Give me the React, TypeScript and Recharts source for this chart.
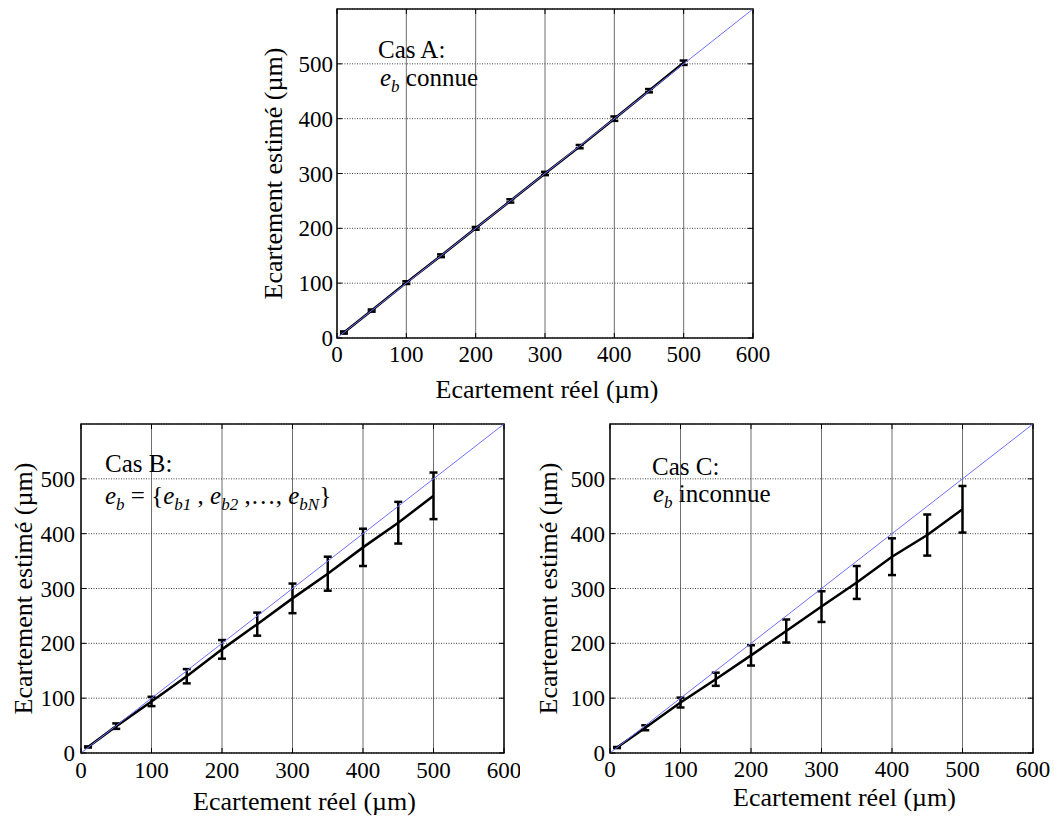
import React from "react";
import {
  ComposedChart,
  Line,
  XAxis,
  YAxis,
  CartesianGrid,
  ErrorBar,
  ReferenceArea,
} from "recharts";

// x values shared by the three cases (µm)
const ecartementReel = [10, 50, 100, 150, 200, 250, 300, 350, 400, 450, 500];

// Cas A : e_b connue
const estimeA = [10, 50, 101, 150, 200, 250, 300, 349, 400, 451, 502];
const erreurA = [2, 2, 2.5, 2.5, 2.5, 3, 3, 3, 4, 3, 4];

// Cas B : e_b = {e_b1, ..., e_bN}
const estimeB = [11, 49, 94, 140, 189, 235, 282, 327, 375, 420, 469];
const erreurB = [1, 5, 8.5, 13, 17, 21, 27, 31, 34, 38, 42.5];

// Cas C : e_b inconnue
const estimeC = [10, 46, 92, 134.5, 178, 222.5, 267, 311, 358, 397.5, 444.5];
const erreurC = [1, 4.5, 9, 12, 18.5, 21, 28, 30, 33.5, 37.5, 42.5];

// y = x reference line
const diagonale = [0, 600];

const xTicks = [0, 100, 200, 300, 400, 500, 600];
const yTicks = [0, 100, 200, 300, 400, 500];

const FONT = '"Liberation Serif", "Times New Roman", serif';

type PanelProps = {
  left: number;
  top: number;
  width: number;
  height: number;
  margin: { top: number; right: number; bottom: number; left: number };
  yAxisWidth: number;
  xAxisHeight: number;
  estime: number[];
  erreur: number[];
  xTickDy: number;
  yTickGap: number;
  xLabelDx: number;
  xLabelDy: number;
  yLabelDx: number;
};

function Panel(p: PanelProps) {
  const data = ecartementReel.map((x, i) => ({ x, y: p.estime[i], err: p.erreur[i] }));
  const diag = diagonale.map((v) => ({ x: v, y: v }));

  const plotLeft = p.margin.left + p.yAxisWidth;
  const plotTop = p.margin.top;
  const plotW = p.width - plotLeft - p.margin.right;
  const plotH = p.height - p.margin.top - p.margin.bottom - p.xAxisHeight;
  const plotBottom = plotTop + plotH;

  const XTick = (props: any) => {
    const { x, y, payload } = props;
    return (
      <g>
        <line x1={x} y1={y} x2={x} y2={y - 5} stroke="#000" strokeWidth={1} />
        <line x1={x} y1={y - plotH} x2={x} y2={y - plotH + 5} stroke="#000" strokeWidth={1} />
        <text x={x} y={y + p.xTickDy} textAnchor="middle" fontFamily={FONT} fontSize={23} fill="#000">
          {payload.value}
        </text>
      </g>
    );
  };

  const YTick = (props: any) => {
    const { x, y, payload } = props;
    return (
      <g>
        <line x1={x} y1={y} x2={x + 5} y2={y} stroke="#000" strokeWidth={1} />
        <line x1={x + plotW} y1={y} x2={x + plotW - 5} y2={y} stroke="#000" strokeWidth={1} />
        <text x={x - p.yTickGap} y={y + 8} textAnchor="end" fontFamily={FONT} fontSize={23} fill="#000">
          {payload.value}
        </text>
      </g>
    );
  };

  const xLabel = () => (
    <text
      x={plotLeft + plotW / 2 + p.xLabelDx}
      y={plotBottom + p.xLabelDy}
      textAnchor="middle"
      fontFamily={FONT}
      fontSize={26}
      fill="#000"
    >
      Ecartement réel (µm)
    </text>
  );

  const yLabel = () => (
    <text
      transform={`translate(${plotLeft - p.yLabelDx}, ${plotTop + plotH / 2}) rotate(-90)`}
      textAnchor="middle"
      dominantBaseline="central"
      fontFamily={FONT}
      fontSize={26}
      fill="#000"
    >
      Ecartement estimé (µm)
    </text>
  );

  return (
    <div style={{ position: "absolute", left: p.left, top: p.top }}>
      <ComposedChart width={p.width} height={p.height} margin={p.margin}>
        <CartesianGrid horizontal={false} stroke="#6e6e6e" strokeWidth={1} />
        <CartesianGrid vertical={false} stroke="#444" strokeDasharray="1 1.5" />
        <XAxis
          type="number"
          dataKey="x"
          domain={[0, 600]}
          ticks={xTicks}
          interval={0}
          allowDataOverflow
          height={p.xAxisHeight}
          axisLine={false}
          tickLine={false}
          tickSize={0}
          tickMargin={0}
          tick={XTick}
          label={xLabel}
        />
        <YAxis
          type="number"
          domain={[0, 600]}
          ticks={yTicks}
          interval={0}
          allowDataOverflow
          width={p.yAxisWidth}
          axisLine={false}
          tickLine={false}
          tickSize={0}
          tickMargin={0}
          tick={YTick}
          label={yLabel}
        />
        <ReferenceArea x1={0} x2={600} y1={0} y2={600} fill="none" fillOpacity={0} stroke="#111" strokeWidth={1.5} />
        <Line
          data={data}
          dataKey="y"
          type="linear"
          stroke="#000"
          strokeWidth={2.5}
          dot={false}
          isAnimationActive={false}
        >
          <ErrorBar dataKey="err" direction="y" width={4} stroke="#000" strokeWidth={2.5} />
        </Line>
        <Line
          data={diag}
          dataKey="y"
          type="linear"
          stroke="#6f6fff"
          strokeWidth={1}
          dot={false}
          isAnimationActive={false}
        />
      </ComposedChart>
    </div>
  );
}

const textStyle = { fontFamily: FONT, fill: "#000" } as const;

function Annotations() {
  return (
    <svg
      width={1054}
      height={816}
      style={{ position: "absolute", left: 0, top: 0, pointerEvents: "none" }}
    >
      <text x={378} y={58} fontSize={25} {...textStyle}>Cas A:</text>
      <text x={380} y={86} fontSize={25} {...textStyle}>
        <tspan fontStyle="italic">e</tspan>
        <tspan fontStyle="italic" fontSize={17} dy={6}>b</tspan>
        <tspan dy={-6}> connue</tspan>
      </text>

      <text x={105} y={472} fontSize={25} {...textStyle}>Cas B:</text>
      <text x={105} y={504} fontSize={25} {...textStyle}>
        <tspan fontStyle="italic">e</tspan>
        <tspan fontStyle="italic" fontSize={17} dy={6}>b</tspan>
        <tspan dy={-6}> = {"{"}</tspan>
        <tspan fontStyle="italic">e</tspan>
        <tspan fontStyle="italic" fontSize={17} dy={6}>b1</tspan>
        <tspan dy={-6}> , </tspan>
        <tspan fontStyle="italic">e</tspan>
        <tspan fontStyle="italic" fontSize={17} dy={6}>b2</tspan>
        <tspan dy={-6}> ,…, </tspan>
        <tspan fontStyle="italic">e</tspan>
        <tspan fontStyle="italic" fontSize={17} dy={6}>bN</tspan>
        <tspan dy={-6}>{"}"}</tspan>
      </text>

      <text x={652} y={475} fontSize={25} {...textStyle}>Cas C:</text>
      <text x={653} y={502} fontSize={25} {...textStyle}>
        <tspan fontStyle="italic">e</tspan>
        <tspan fontStyle="italic" fontSize={17} dy={6}>b</tspan>
        <tspan dy={-6}> inconnue</tspan>
      </text>
    </svg>
  );
}

export default function App() {
  return (
    <div
      style={{
        position: "absolute",
        left: 0,
        top: 0,
        width: 1054,
        height: 816,
        background: "#fff",
        fontFamily: FONT,
      }}
    >
      <Panel
        left={250}
        top={0}
        width={520}
        height={410}
        margin={{ top: 9, right: 17, bottom: 0, left: 0 }}
        yAxisWidth={87}
        xAxisHeight={72}
        estime={estimeA}
        erreur={erreurA}
        xTickDy={24}
        yTickGap={4}
        xLabelDx={2}
        xLabelDy={60}
        yLabelDx={64}
      />
      <Panel
        left={0}
        top={410}
        width={520}
        height={406}
        margin={{ top: 14, right: 16, bottom: 0, left: 0 }}
        yAxisWidth={81}
        xAxisHeight={63}
        estime={estimeB}
        erreur={erreurB}
        xTickDy={25}
        yTickGap={6}
        xLabelDx={12}
        xLabelDy={57}
        yLabelDx={58}
      />
      <Panel
        left={530}
        top={410}
        width={524}
        height={406}
        margin={{ top: 14, right: 21, bottom: 0, left: 0 }}
        yAxisWidth={80}
        xAxisHeight={63}
        estime={estimeC}
        erreur={erreurC}
        xTickDy={24}
        yTickGap={5}
        xLabelDx={23}
        xLabelDy={53}
        yLabelDx={62}
      />
      <Annotations />
    </div>
  );
}
